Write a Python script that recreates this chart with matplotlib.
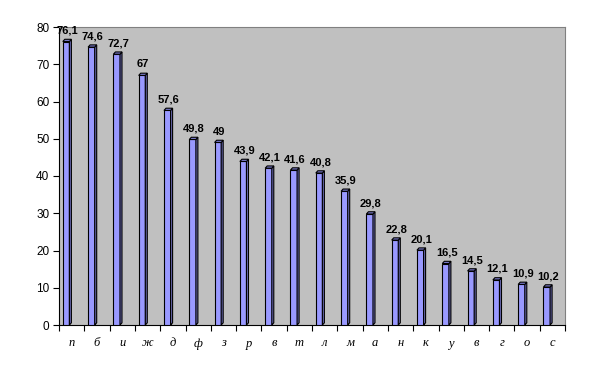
import matplotlib
matplotlib.use('Agg')
import matplotlib.pyplot as plt
from matplotlib.patches import Polygon
import numpy as np

letters = ['п', 'б', 'и', 'ж', 'д', 'ф', 'з', 'р', 'в', 'т',
           'л', 'м', 'а', 'н', 'к', 'у', 'в', 'г', 'о', 'с']
values = [76.1, 74.6, 72.7, 67, 57.6, 49.8, 49, 43.9, 42.1, 41.6,
          40.8, 35.9, 29.8, 22.8, 20.1, 16.5, 14.5, 12.1, 10.9, 10.2]

fig = plt.figure(figsize=(6.01, 3.69), dpi=100)
ax = fig.add_axes([59/601, 44/369, 506/601, 298/369])
ax.set_facecolor('#c0c0c0')

ax.set_xlim(0, len(values))
ax.set_ylim(0, 80)

front_l = 0.15
front_w = 0.26
dx = 0.08
dy = 0.6

for i, v in enumerate(values):
    x0 = i + front_l
    x1 = x0 + front_w
    # front face
    ax.bar(x0, v, width=front_w, align='edge', color='#9999ff',
           edgecolor='black', linewidth=0.8, zorder=3)
    # side face
    side = Polygon([[x1, 0], [x1 + dx, dy], [x1 + dx, v + dy], [x1, v]],
                   closed=True, facecolor='#6b6bb3', edgecolor='black',
                   linewidth=0.8, zorder=3)
    ax.add_patch(side)
    # top face
    top = Polygon([[x0, v], [x0 + dx, v + dy], [x1 + dx, v + dy], [x1, v]],
                  closed=True, facecolor='#7a7acc', edgecolor='black',
                  linewidth=0.8, zorder=3)
    ax.add_patch(top)
    lab = str(v).replace('.', ',')
    if lab.endswith(',0'):
        lab = lab[:-2]
    ax.text(x0 + front_w / 2 + 0.05, v + 1.6, lab, ha='center', va='bottom',
            fontsize=8, fontweight='bold', family='Liberation Sans',
            color='black', zorder=4)

ax.set_yticks(np.arange(0, 81, 10))
ax.set_yticklabels([str(t) for t in range(0, 81, 10)],
                   family='Liberation Sans', fontsize=8.5)
ax.set_xticks(np.arange(0, len(values) + 1))
ax.set_xticklabels([])
ax.set_xticks(np.arange(len(values)) + 0.5, minor=True)
ax.set_xticklabels(letters, minor=True, family='Liberation Serif',
                   style='italic', fontsize=9)
ax.tick_params(axis='x', which='minor', length=0, pad=9)
ax.tick_params(axis='x', which='major', length=4, direction='out', width=0.8)
ax.tick_params(axis='y', length=4, direction='out', width=0.8, pad=3)

ax.spines['left'].set_color('black')
ax.spines['bottom'].set_color('black')
ax.spines['top'].set_color('#808080')
ax.spines['right'].set_color('#808080')

fig.savefig('out.png', dpi=100)
